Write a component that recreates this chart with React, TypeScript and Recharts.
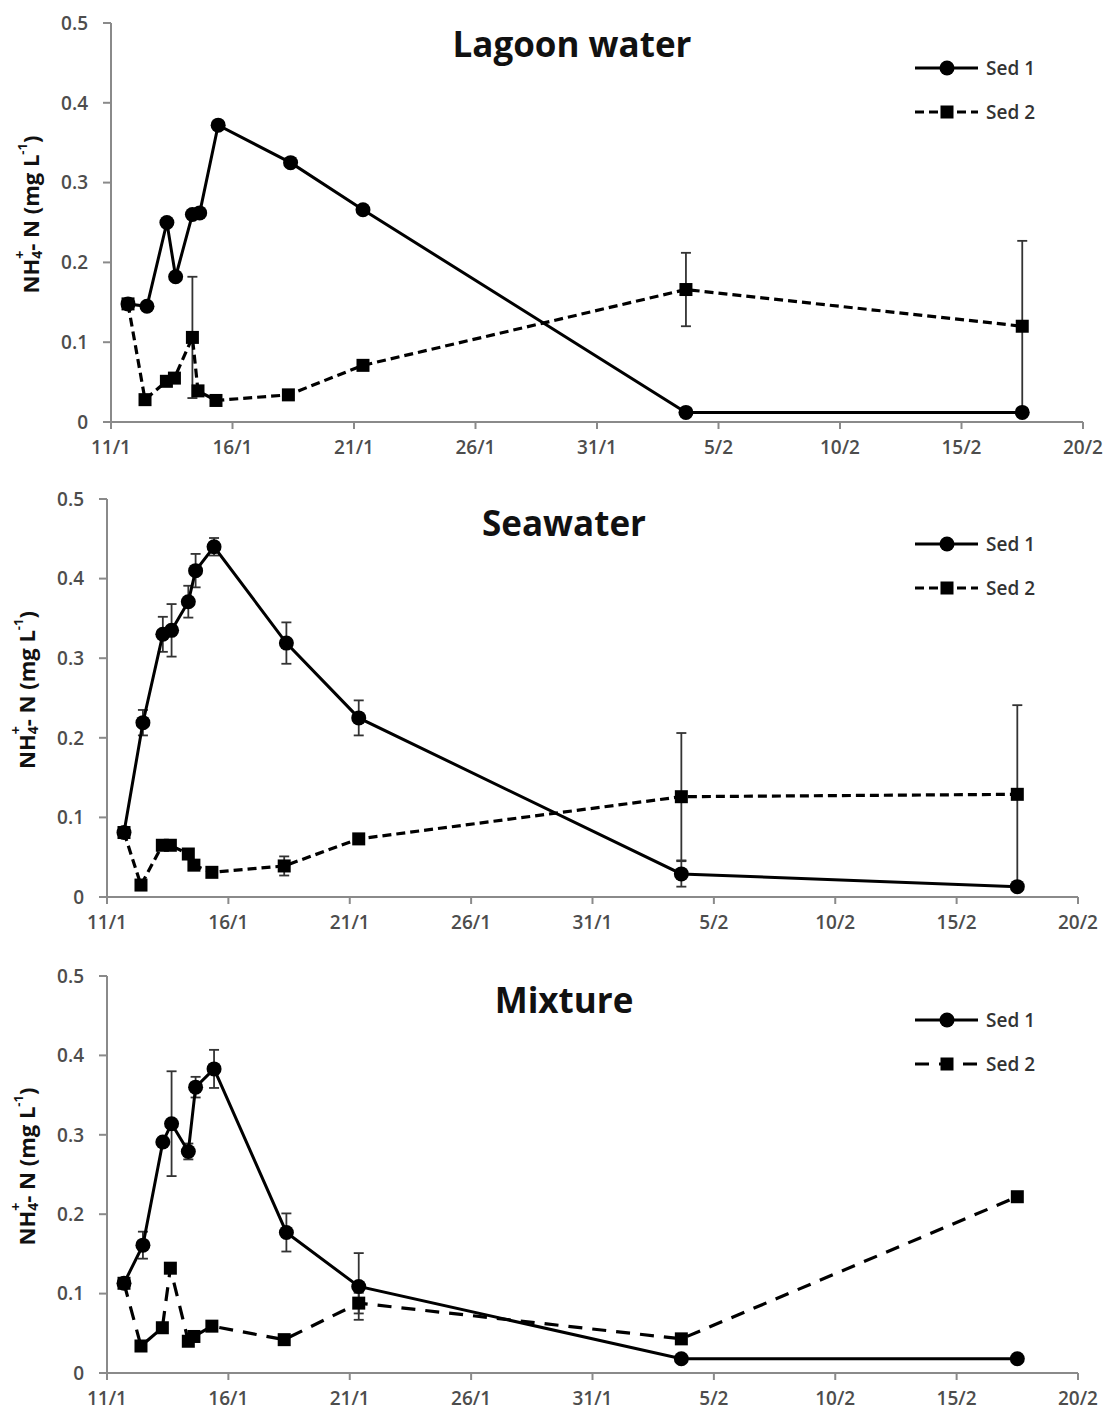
import { LineChart, Line, XAxis, YAxis, ErrorBar } from "recharts";

// sampling times, days after 11 Jan
const sed1Days = [0.7, 1.48, 2.3, 2.66, 3.35, 3.65, 4.41, 7.39, 10.37, 23.66, 37.5];
const sed2Days = [0.7, 1.4, 2.28, 2.61, 3.35, 3.58, 4.32, 7.3, 10.37, 23.66, 37.5];

const xTicks = [0, 5, 10, 15, 20, 25, 30, 35, 40];
const xTickLabels = ["11/1", "16/1", "21/1", "26/1", "31/1", "5/2", "10/2", "15/2", "20/2"];
const yTicks = [0, 0.1, 0.2, 0.3, 0.4, 0.5];
const yTickLabels = ["0", "0.1", "0.2", "0.3", "0.4", "0.5"];

const lagoonSed1 = [0.148, 0.145, 0.25, 0.182, 0.26, 0.262, 0.372, 0.325, 0.266, 0.012, 0.012];
const lagoonSed1Err = [0, 0, 0, 0, 0, 0, 0, 0, 0, 0, 0];
const lagoonSed2 = [0.148, 0.028, 0.051, 0.055, 0.106, 0.039, 0.027, 0.034, 0.071, 0.166, 0.12];
const lagoonSed2Err = [0, 0, 0, 0, 0.076, 0, 0, 0, 0, 0.046, 0.107];

const seaSed1 = [0.081, 0.219, 0.33, 0.335, 0.371, 0.41, 0.44, 0.319, 0.225, 0.029, 0.013];
const seaSed1Err = [0, 0.016, 0.022, 0.033, 0.02, 0.021, 0.011, 0.026, 0.022, 0.016, 0];
const seaSed2 = [0.081, 0.015, 0.065, 0.065, 0.054, 0.04, 0.031, 0.039, 0.073, 0.126, 0.129];
const seaSed2Err = [0, 0, 0, 0, 0, 0, 0, 0.012, 0, 0.08, 0.112];

const mixSed1 = [0.113, 0.161, 0.291, 0.314, 0.279, 0.36, 0.383, 0.177, 0.109, 0.018, 0.018];
const mixSed1Err = [0, 0.017, 0, 0.066, 0.01, 0.013, 0.024, 0.024, 0.042, 0, 0];
const mixSed2 = [0.113, 0.034, 0.057, 0.132, 0.04, 0.046, 0.059, 0.042, 0.088, 0.043, 0.222];
const mixSed2Err = [0, 0, 0, 0, 0, 0, 0, 0, 0.013, 0, 0];

const W = 1110;
const FONT = "'Open Sans', 'DejaVu Sans', sans-serif";
const axisColor = "#8a8a8a";
const tickStyle = { fontFamily: FONT, fontSize: 19, fontWeight: 600, fill: "#4d4d4d" };

type Row = { t: number; v: number; err: number };

function rows(days: number[], vals: number[], errs: number[]): Row[] {
  return days.map((t, i) => ({ t, v: vals[i], err: errs[i] }));
}

function SquareDot(props: any) {
  const { cx, cy, index } = props;
  if (cx == null || cy == null) return <g key={index} />;
  return <rect key={index} x={cx - 6.5} y={cy - 6.5} width={13} height={13} fill="#000" />;
}

function YLabel(props: any) {
  const { viewBox, lx } = props;
  const cy = viewBox.y + viewBox.height / 2 - 8;
  return (
    <text
      transform={`translate(${lx},${cy}) rotate(-90)`}
      textAnchor="middle"
      dominantBaseline="central"
      fontFamily={FONT}
      fontSize={22}
      fontWeight={700}
      fill="#111"
    >
      NH
      <tspan dy={6} fontSize={14}>4</tspan>
      <tspan dx={-8} dy={-17} fontSize={14}>+</tspan>
      <tspan dy={11}>- N (mg L</tspan>
      <tspan dy={-8} fontSize={13}>-1</tspan>
      <tspan dy={8}>)</tspan>
    </text>
  );
}

function LegendBox({ dash }: { dash: string }) {
  return (
    <svg width={200} height={80} style={{ position: "absolute", left: 905, top: 50 }}>
      <line x1={10} y1={18} x2={73} y2={18} stroke="#000" strokeWidth={3} />
      <circle cx={42} cy={18} r={7.5} fill="#000" />
      <text x={81} y={18} dominantBaseline="central" fontFamily={FONT} fontSize={19} fontWeight={600} fill="#333">
        Sed 1
      </text>
      <line x1={10} y1={62} x2={73} y2={62} stroke="#000" strokeWidth={3} strokeDasharray={dash} />
      <rect x={35.5} y={55.5} width={13} height={13} fill="#000" />
      <text x={81} y={62} dominantBaseline="central" fontFamily={FONT} fontSize={19} fontWeight={600} fill="#333">
        Sed 2
      </text>
    </svg>
  );
}

interface PanelProps {
  top: number;
  height: number;
  marginTop: number;
  plotHeight: number;
  plotLeft: number;
  plotRight: number;
  title: string;
  titleX: number;
  titleTop: number;
  labelX: number;
  s1: Row[];
  s2: Row[];
  dash: string;
}

function Panel(p: PanelProps) {
  const xAxisHeight = p.height - p.marginTop - p.plotHeight;
  return (
    <div style={{ position: "absolute", left: 0, top: p.top, width: W, height: p.height }}>
      <LineChart
        width={W}
        height={p.height}
        margin={{ top: p.marginTop, right: W - p.plotRight, bottom: 0, left: 0 }}
      >
        <XAxis
          type="number"
          dataKey="t"
          domain={[0, 40]}
          ticks={xTicks}
          interval={0}
          allowDataOverflow
          tickFormatter={(v: number) => xTickLabels[xTicks.indexOf(v)]}
          height={xAxisHeight}
          axisLine={{ stroke: axisColor, strokeWidth: 2 }}
          tickLine={{ stroke: axisColor, strokeWidth: 2 }}
          tickSize={7}
          tickMargin={12}
          tick={tickStyle}
        />
        <YAxis
          type="number"
          domain={[0, 0.5]}
          ticks={yTicks}
          interval={0}
          tickFormatter={(v: number) => yTickLabels[yTicks.indexOf(v)]}
          width={p.plotLeft}
          axisLine={{ stroke: axisColor, strokeWidth: 2 }}
          tickLine={{ stroke: axisColor, strokeWidth: 2 }}
          tickSize={8}
          tickMargin={15}
          tick={tickStyle}
          label={<YLabel lx={p.labelX} />}
        />
        <Line
          data={p.s1}
          dataKey="v"
          name="Sed 1"
          type="linear"
          stroke="#000"
          strokeWidth={3}
          dot={{ r: 7.5, fill: "#000", stroke: "#000", strokeWidth: 0 }}
          isAnimationActive={false}
        >
          <ErrorBar dataKey="err" direction="y" width={5} stroke="#333" strokeWidth={1.8} />
        </Line>
        <Line
          data={p.s2}
          dataKey="v"
          name="Sed 2"
          type="linear"
          stroke="#000"
          strokeWidth={3.2}
          strokeDasharray={p.dash}
          dot={(d: any) => <SquareDot key={d.index} {...d} />}
          isAnimationActive={false}
        >
          <ErrorBar dataKey="err" direction="y" width={5} stroke="#333" strokeWidth={1.8} />
        </Line>
      </LineChart>
      <div
        style={{
          position: "absolute",
          left: p.titleX - 300,
          top: p.titleTop,
          width: 600,
          textAlign: "center",
          fontFamily: FONT,
          fontSize: 35,
          lineHeight: "35px",
          fontWeight: 700,
          color: "#111",
        }}
      >
        {p.title}
      </div>
      <LegendBox dash={p.dash} />
    </div>
  );
}

export default function App() {
  return (
    <div style={{ position: "absolute", left: 0, top: 0, width: W, height: 1416, background: "#fff", overflow: "hidden" }}>
      <Panel
        top={0}
        height={470}
        marginTop={23}
        plotHeight={399}
        plotLeft={111}
        plotRight={1083}
        title="Lagoon water"
        titleX={572}
        titleTop={26}
        labelX={30}
        s1={rows(sed1Days, lagoonSed1, lagoonSed1Err)}
        s2={rows(sed2Days, lagoonSed2, lagoonSed2Err)}
        dash="9 5"
      />
      <Panel
        top={476}
        height={470}
        marginTop={23}
        plotHeight={398}
        plotLeft={107}
        plotRight={1078}
        title="Seawater"
        titleX={564}
        titleTop={29}
        labelX={26}
        s1={rows(sed1Days, seaSed1, seaSed1Err)}
        s2={rows(sed2Days, seaSed2, seaSed2Err)}
        dash="9 5"
      />
      <Panel
        top={952}
        height={464}
        marginTop={24}
        plotHeight={397}
        plotLeft={107}
        plotRight={1078}
        title="Mixture"
        titleX={564}
        titleTop={30}
        labelX={26}
        s1={rows(sed1Days, mixSed1, mixSed1Err)}
        s2={rows(sed2Days, mixSed2, mixSed2Err)}
        dash="14 10"
      />
    </div>
  );
}
